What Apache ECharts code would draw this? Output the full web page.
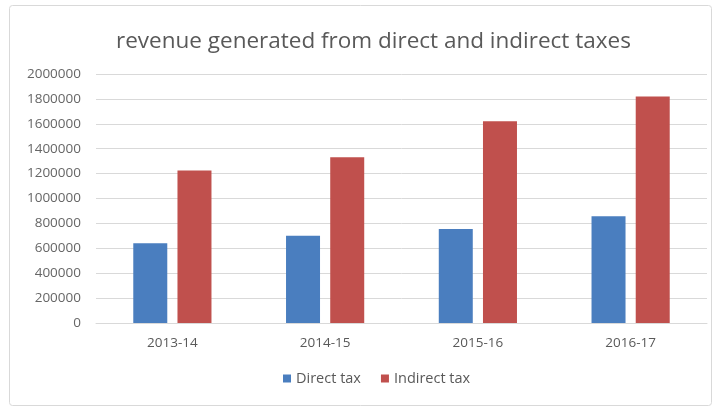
<!DOCTYPE html>
<html>
<head>
<meta charset="utf-8">
<script src="https://cdn.jsdelivr.net/npm/echarts@6/dist/echarts.min.js"></script>
<style>
  html, body { margin: 0; padding: 0; background: #fff; }
  #chart { width: 718px; height: 410px; }
</style>
</head>
<body>
<div id="chart"></div>
<script>
// Tax revenue by financial year
const years = ['2013-14', '2014-15', '2015-16', '2016-17'];
const directTax = [640000, 700000, 755000, 857000];
const indirectTax = [1225000, 1332000, 1620000, 1820000];
const seriesNames = ['Direct tax', 'Indirect tax'];
const yTicks = { min: 0, max: 2000000, interval: 200000 };

const textColor = '#595959';
const lineColor = '#d9d9d9';
const fontFamily = '"Open Sans", "Liberation Sans", sans-serif';

const chart = echarts.init(document.getElementById('chart'), null, { renderer: 'canvas' });

chart.setOption({
  backgroundColor: '#ffffff',
  animation: false,
  graphic: [{
    type: 'rect',
    shape: { x: 9.5, y: 5.5, width: 702, height: 400, r: 3 },
    style: { fill: 'none', stroke: '#d9d9d9', lineWidth: 1 },
    silent: true,
    z: -1
  }],
  title: {
    text: 'revenue generated from direct and indirect taxes',
    left: 111,
    top: 25,
    textStyle: { color: textColor, fontSize: 22.5, fontWeight: 'normal', fontFamily: fontFamily }
  },
  legend: {
    data: seriesNames,
    bottom: 19,
    left: 278,
    itemWidth: 8,
    itemHeight: 8,
    itemGap: 20,
    icon: 'rect',
    textStyle: { color: textColor, fontSize: 14.5, fontFamily: fontFamily }
  },
  grid: { left: 96, right: 11, top: 74, bottom: 87 },
  xAxis: {
    type: 'category',
    data: years,
    axisLine: { lineStyle: { color: lineColor } },
    axisTick: { show: false },
    axisLabel: { color: textColor, fontSize: 13.5, margin: 13, fontFamily: fontFamily }
  },
  yAxis: {
    type: 'value',
    min: yTicks.min,
    max: yTicks.max,
    interval: yTicks.interval,
    axisLine: { show: false },
    axisTick: { show: false },
    splitLine: { lineStyle: { color: lineColor } },
    axisLabel: {
      color: '#666666', fontSize: 13.5, margin: 15, fontFamily: fontFamily,
      formatter: (v) => String(v)
    }
  },
  series: [
    {
      name: seriesNames[0],
      type: 'bar',
      data: directTax,
      barWidth: 34,
      barGap: '30%',
      itemStyle: { color: '#4a7ebf' }
    },
    {
      name: seriesNames[1],
      type: 'bar',
      data: indirectTax,
      barWidth: 34,
      barGap: '30%',
      itemStyle: { color: '#c0504d' }
    }
  ]
});
</script>
</body>
</html>
